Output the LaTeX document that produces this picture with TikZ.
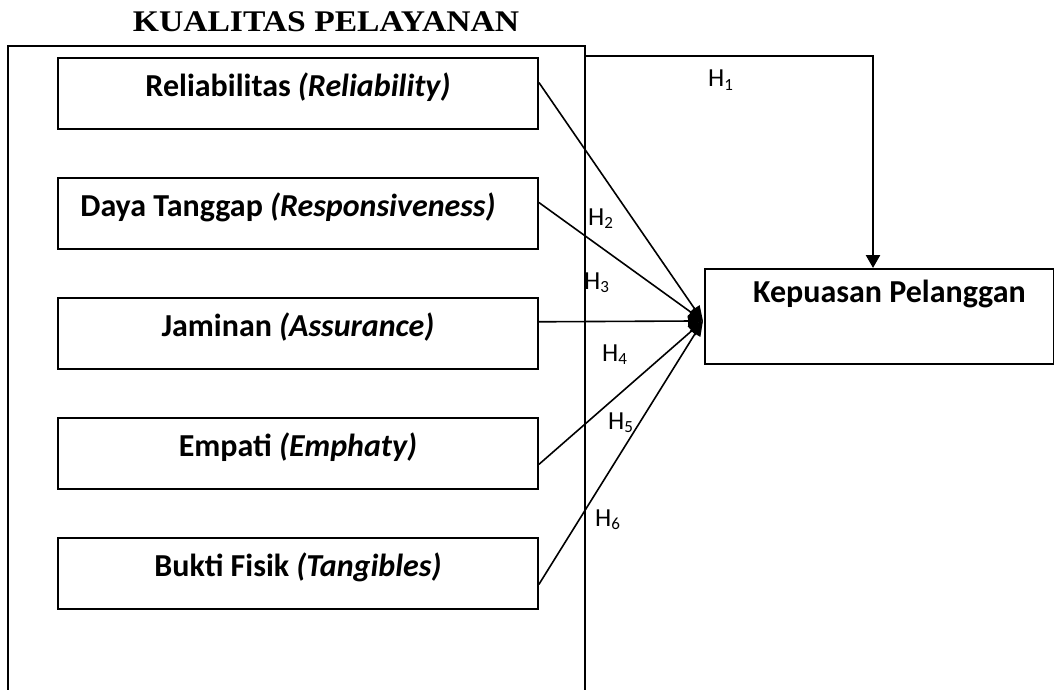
\documentclass[tikz,border=0pt]{standalone}
\usepackage{fontspec}
\setmainfont{Carlito}
\newfontfamily\titlefont{Liberation Serif}
\usetikzlibrary{arrows.meta,calc}
\newcommand\hyp[1]{H\raisebox{-3.5pt}{\fontsize{17}{17}\selectfont #1}}
\begin{document}
\begin{tikzpicture}[x=1pt,y=-1pt,
  box/.style={draw,line width=1.9pt,minimum width=480pt,inner xsep=0pt,inner ysep=0pt,
    text height=39pt,text depth=32pt,font=\fontsize{32}{32}\selectfont\bfseries,anchor=north west},
  conn/.style={line width=1.6pt,-{Triangle[width=12pt,length=15pt]}},
  hlab/.style={anchor=base west,inner sep=0pt,font=\fontsize{26}{26}\selectfont}]
\useasboundingbox (0,0) rectangle (1054,690);
% title
\node[anchor=base,inner sep=0pt,font=\titlefont\fontsize{30}{30}\selectfont\bfseries] (title) at (326,32)
  {\scalebox{1.12}[1]{KUALITAS PELAYANAN}};
% outer container (open at the bottom)
\coordinate (obl) at (8,690);
\coordinate (otl) at (8,46);
\coordinate (otr) at (585,46);
\coordinate (obr) at (585,690);
\draw[line width=1.9pt] (obl) -- (otl) -- (otr) -- (obr);
% inner boxes
\node[box] (b1) at (57,57)  {Reliabilitas \textit{(Reliability)}};
\node[box] (b2) at (57,177) {Daya Tanggap \textit{(Responsiveness)}\hspace*{20pt}};
\node[box] (b3) at (57,297) {Jaminan \textit{(Assurance)}};
\node[box] (b4) at (57,417) {Empati \textit{(Emphaty)}};
\node[box] (b5) at (57,537) {Bukti Fisik \textit{(Tangibles)}};
% dependent variable
\node[draw,line width=1.9pt,anchor=north west,minimum width=349pt,inner xsep=0pt,inner ysep=0pt,
  text height=34pt,text depth=61pt,font=\fontsize{32}{32}\selectfont\bfseries] (kp) at (704,268)
  {\hspace*{20pt}Kepuasan Pelanggan};
\coordinate (hub) at ($(kp.west)+(-1,4.5)$);
% connectors
\draw[conn] ($(b1.north east)!0.35!(b1.south east)$) -- (hub);
\draw[conn] ($(b2.north east)!0.35!(b2.south east)$) -- (hub);
\draw[conn] ($(b3.north east)!0.34!(b3.south east)$) -- (hub);
\draw[conn] ($(b4.north east)!0.65!(b4.south east)$) -- (hub);
\draw[conn] ($(b5.north east)!0.65!(b5.south east)$) -- (hub);
\coordinate (h1start) at ($(otr)+(0,10)$);
\draw[line width=2.5pt,-{Triangle[width=14pt,length=13pt]}] (h1start) -| ($(kp.north west)+(169,0)$);
% labels
\node[hlab] (l1) at (708,87)  {\hyp{1}};
\node[hlab] (l2) at (588,225) {\hyp{2}};
\node[hlab] (l3) at (584,289) {\hyp{3}};
\node[hlab] (l4) at (602,361) {\hyp{4}};
\node[hlab] (l5) at (608,429) {\hyp{5}};
\node[hlab] (l6) at (595,526) {\hyp{6}};
\end{tikzpicture}
\end{document}
